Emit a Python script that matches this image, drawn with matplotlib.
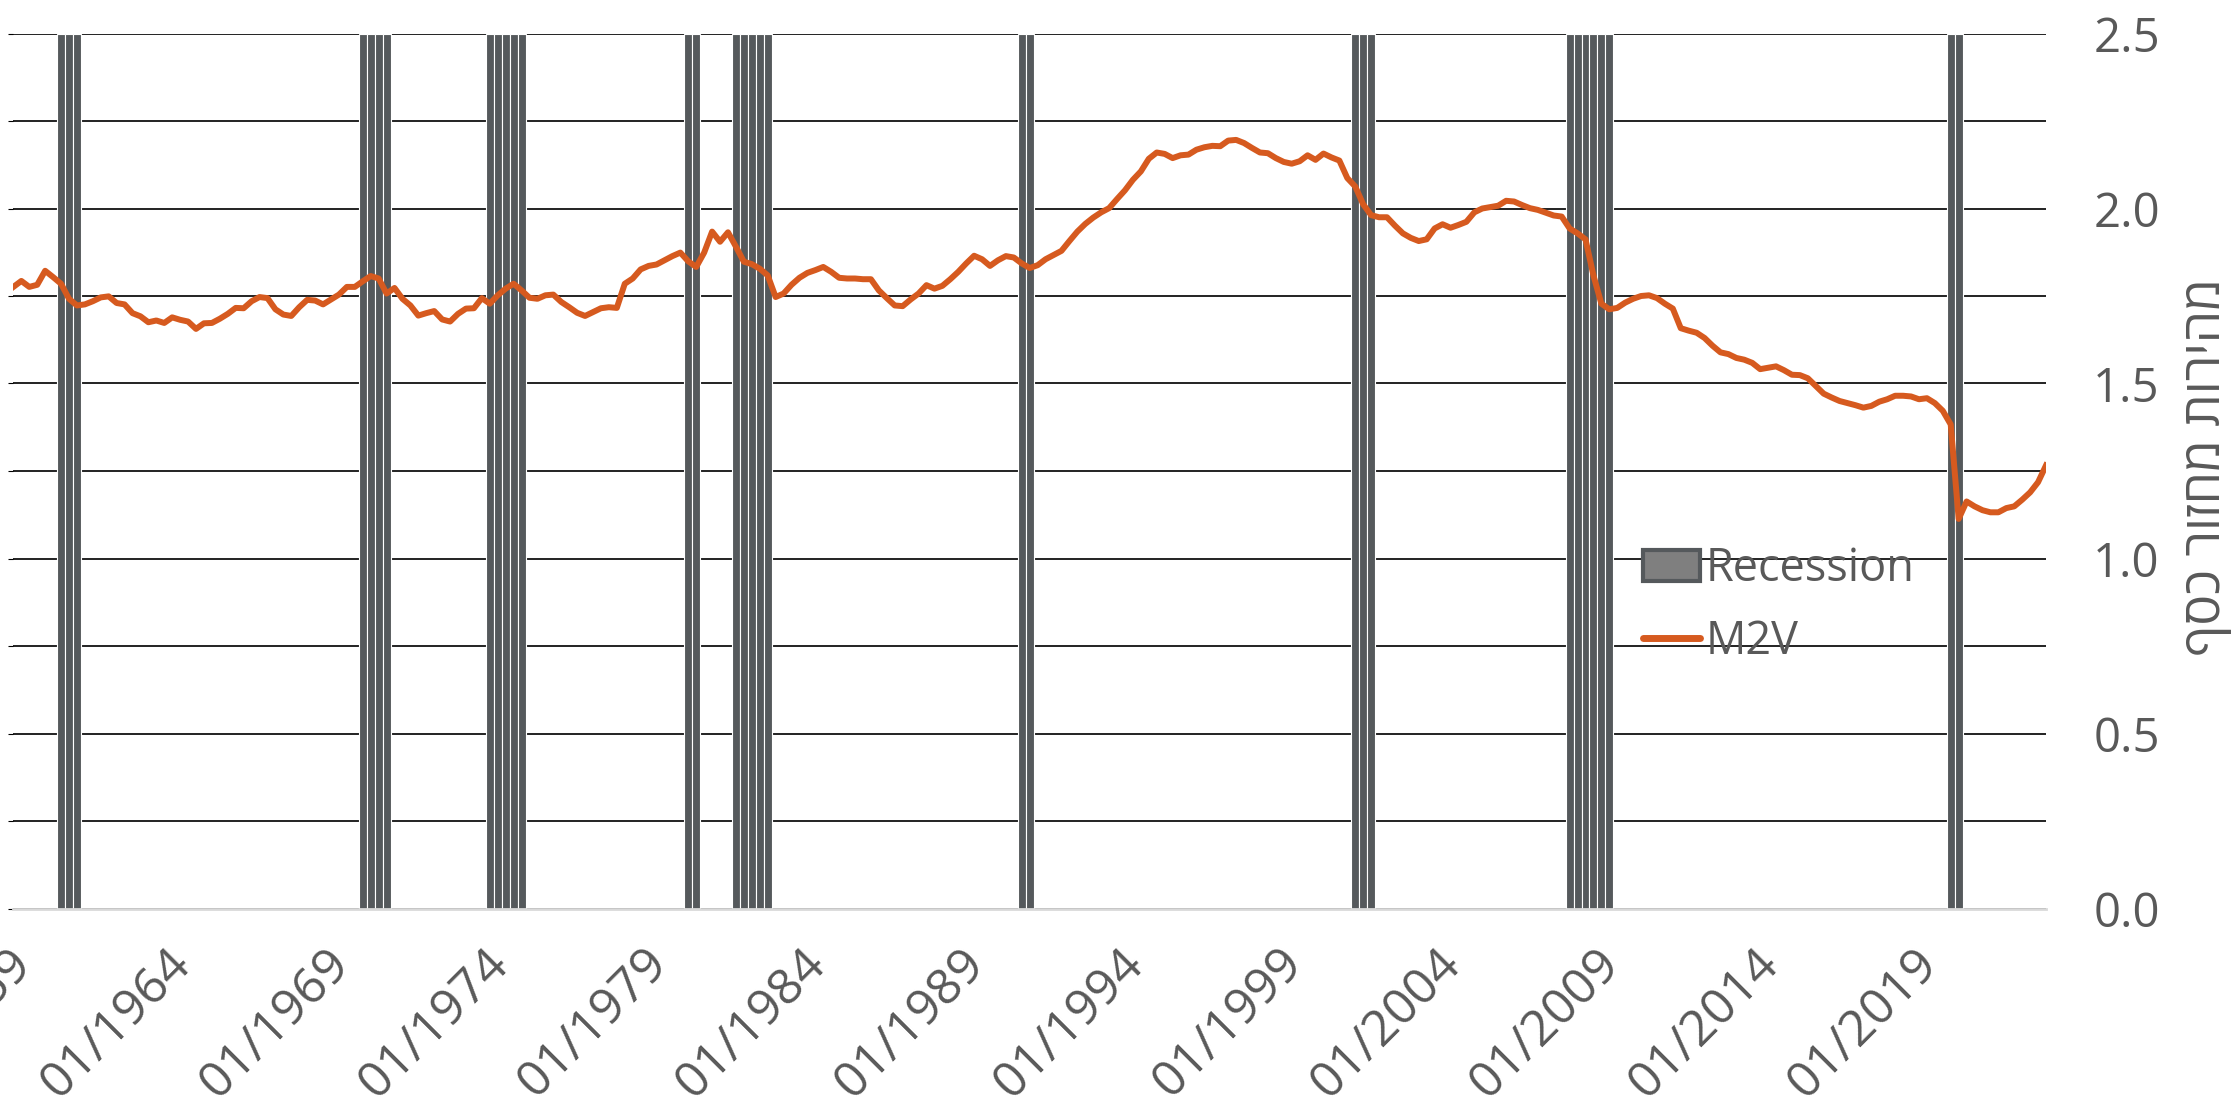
import numpy as np
import pandas as pd
import matplotlib
matplotlib.use("Agg")
import matplotlib.pyplot as plt
from matplotlib.patches import Patch
from matplotlib.lines import Line2D
from matplotlib.transforms import ScaledTranslation

plt.rcParams['font.family'] = ['Open Sans', 'DejaVu Sans']

# quarterly categories, 1959Q1 .. 2023Q1
quarters = pd.period_range('1959Q1', '2023Q1', freq='Q')

# M2 velocity, one row per decade-ish
m2v_1959 = [1.776, 1.793, 1.776, 1.782, 1.822, 1.804, 1.785, 1.742, 1.723, 1.726,
            1.735, 1.746, 1.749, 1.730, 1.726, 1.701, 1.692, 1.675, 1.680, 1.673,
            1.689, 1.682, 1.677, 1.656, 1.672, 1.673, 1.685, 1.699, 1.716, 1.715,
            1.735, 1.747, 1.744, 1.712, 1.697, 1.693, 1.718, 1.739, 1.737, 1.726]
m2v_1969 = [1.740, 1.754, 1.776, 1.776, 1.792, 1.807, 1.800, 1.757, 1.773, 1.742,
            1.723, 1.694, 1.701, 1.707, 1.683, 1.677, 1.699, 1.714, 1.715, 1.744,
            1.728, 1.752, 1.771, 1.785, 1.766, 1.745, 1.742, 1.752, 1.754, 1.733,
            1.718, 1.702, 1.693, 1.704, 1.715, 1.718, 1.716, 1.785, 1.800, 1.826]
m2v_1979 = [1.836, 1.840, 1.852, 1.864, 1.874, 1.849, 1.833, 1.874, 1.934, 1.905,
            1.932, 1.891, 1.848, 1.841, 1.828, 1.809, 1.747, 1.757, 1.782, 1.802,
            1.816, 1.824, 1.833, 1.819, 1.802, 1.800, 1.800, 1.798, 1.798, 1.766,
            1.744, 1.723, 1.721, 1.740, 1.757, 1.781, 1.771, 1.779, 1.798, 1.819]
m2v_1989 = [1.843, 1.865, 1.855, 1.836, 1.852, 1.864, 1.860, 1.843, 1.830, 1.838,
            1.855, 1.867, 1.879, 1.907, 1.934, 1.956, 1.974, 1.989, 2.001, 2.027,
            2.052, 2.082, 2.106, 2.142, 2.160, 2.156, 2.144, 2.152, 2.154, 2.168,
            2.175, 2.179, 2.178, 2.194, 2.196, 2.187, 2.173, 2.160, 2.158, 2.144]
m2v_1999 = [2.133, 2.128, 2.135, 2.152, 2.139, 2.157, 2.146, 2.137, 2.087, 2.063,
            2.012, 1.981, 1.975, 1.975, 1.951, 1.929, 1.916, 1.907, 1.912, 1.943,
            1.955, 1.945, 1.953, 1.962, 1.989, 2.000, 2.004, 2.008, 2.022, 2.020,
            2.010, 2.001, 1.996, 1.988, 1.980, 1.977, 1.943, 1.929, 1.912, 1.809]
m2v_2009 = [1.728, 1.712, 1.716, 1.731, 1.742, 1.750, 1.752, 1.744, 1.728, 1.714,
            1.658, 1.651, 1.645, 1.630, 1.608, 1.589, 1.584, 1.573, 1.568, 1.559,
            1.541, 1.545, 1.549, 1.538, 1.525, 1.524, 1.515, 1.493, 1.471, 1.460,
            1.450, 1.444, 1.438, 1.431, 1.436, 1.448, 1.455, 1.465, 1.465, 1.463]
m2v_2019 = [1.455, 1.458, 1.444, 1.422, 1.383, 1.113, 1.163, 1.149, 1.138, 1.132,
            1.132, 1.144, 1.149, 1.168, 1.189, 1.218, 1.266]

m2v = m2v_1959 + m2v_1969 + m2v_1979 + m2v_1989 + m2v_1999 + m2v_2009 + m2v_2019

# NBER recession quarters
rec_quarters = ['1960Q3', '1960Q4', '1961Q1',
                '1970Q1', '1970Q2', '1970Q3', '1970Q4',
                '1974Q1', '1974Q2', '1974Q3', '1974Q4', '1975Q1',
                '1980Q2', '1980Q3',
                '1981Q4', '1982Q1', '1982Q2', '1982Q3', '1982Q4',
                '1990Q4', '1991Q1',
                '2001Q2', '2001Q3', '2001Q4',
                '2008Q1', '2008Q2', '2008Q3', '2008Q4', '2009Q1', '2009Q2',
                '2020Q1', '2020Q2']

tick_labels = ['01/1959', '01/1964', '01/1969', '01/1974', '01/1979', '01/1984',
               '01/1989', '01/1994', '01/1999', '01/2004', '01/2009', '01/2014',
               '01/2019']

y_title = 'מהירות מחזור כסף'

TXT = '#595959'
ORANGE = '#D65A1F'
BAR = '#55595c'
W, H = 2236, 1107

x = np.arange(len(quarters))
rec = np.array([1 if str(q) in rec_quarters else 0 for q in quarters])
tick_pos = [list(quarters).index(pd.Period(t[3:] + 'Q1', freq='Q')) for t in tick_labels]

fig = plt.figure(figsize=(W / 100, H / 100), dpi=100)
ax = fig.add_axes([13.4 / W, 1 - 908.5 / H, (2046 - 13.4) / W, 875 / H])

# recession columns on the hidden 0..1 axis, gridlines under them
ax.bar(x, rec, width=1.0, color=BAR, edgecolor='white', linewidth=0.8, zorder=2)
ax.set_ylim(0, 1)
ax.set_xlim(0, len(quarters) - 1)
ax.set_yticks(np.arange(0, 1.01, 0.1))
ax.yaxis.grid(True, color='#111111', linewidth=1.3)
ax.set_axisbelow(True)
ax.tick_params(axis='y', left=False, labelleft=False)
for s in ['left', 'right', 'top']:
    ax.spines[s].set_visible(False)
ax.spines['bottom'].set_color('#d9d9d9')
ax.spines['bottom'].set_linewidth(2)
ax.spines['bottom'].set_zorder(3)

ax.set_xticks(tick_pos)
ax.set_xticklabels(tick_labels, rotation=45, ha='right', va='top',
                   rotation_mode='anchor', fontsize=36, color=TXT)
ax.tick_params(axis='x', length=0, pad=22)
for lbl in ax.get_xticklabels():
    lbl.set_transform(lbl.get_transform() + ScaledTranslation(-0.06, 0, fig.dpi_scale_trans))

# velocity line on the right axis
ax2 = ax.twinx()
ax2.plot(x, m2v, color=ORANGE, linewidth=4.3, solid_joinstyle='round', zorder=3)
ax2.set_ylim(0, 2.5)
ax2.set_yticks(np.arange(0, 2.51, 0.5))
ax2.set_yticklabels(['%.1f' % v for v in np.arange(0, 2.51, 0.5)], fontsize=34, color=TXT)
ax2.tick_params(axis='y', length=0, pad=34)
for s in ax2.spines.values():
    s.set_visible(False)

fig.text(2206 / W, 1 - 467 / H, y_title[::-1], rotation=90, ha='center',
         va='center', fontsize=37, color=TXT)

# legend: size the font so "Recession" is ~209 px wide, then pin it in place
renderer = fig.canvas.get_renderer()
probe = fig.text(0, 0, 'Recession', fontsize=33)
leg_fs = 33 * 209 / probe.get_window_extent(renderer).width
probe.remove()

handles = [Patch(facecolor='#7f7f7f', edgecolor=BAR, linewidth=3, label='Recession'),
           Line2D([], [], color=ORANGE, linewidth=5, solid_capstyle='round', label='M2V')]
leg_kw = dict(handles=handles, loc='upper left', frameon=False, fontsize=leg_fs,
              labelcolor=TXT, handlelength=57 / (leg_fs * 100 / 72), handletextpad=0.13,
              labelspacing=0.6, borderpad=0, borderaxespad=0)
leg = fig.legend(bbox_to_anchor=(1643 / W, 1 - 536 / H), **leg_kw)
fig.canvas.draw()
lb = leg.get_window_extent(renderer)
tb = leg.get_texts()[0].get_window_extent(renderer)
dx = 1643 - lb.x0
dy = (H - 569) - (tb.y0 + tb.y1) / 2
leg.set_bbox_to_anchor(((lb.x0 + dx) / W, (lb.y1 + dy) / H), transform=fig.transFigure)

fig.savefig('out.png', dpi=100)
